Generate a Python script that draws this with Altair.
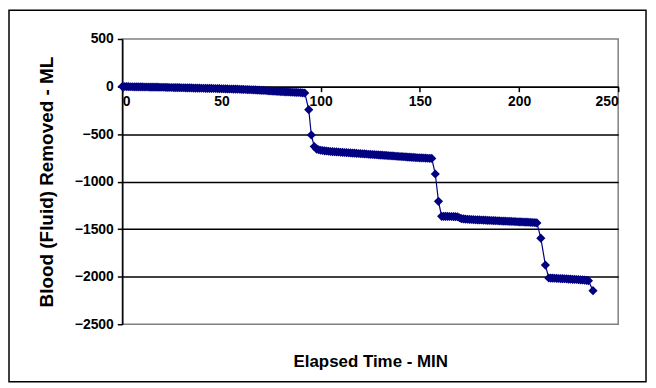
import altair as alt
import pandas as pd

plateau1_min = list(range(0, 93))
plateau1_ml = [0, 0, -1, -1, -2, -2, -3, -3, -3, -4,
               -4, -5, -5, -5, -6, -6, -6, -7, -7, -8,
               -8, -8, -9, -9, -10, -10, -11, -11, -12, -12,
               -13, -13, -14, -14, -15, -15, -16, -16, -17, -17,
               -18, -18, -19, -19, -20, -20, -21, -21, -22, -22,
               -23, -23, -24, -25, -26, -26, -27, -27, -28, -29,
               -30, -30, -31, -32, -33, -34, -35, -36, -37, -38,
               -40, -41, -42, -43, -45, -46, -48, -49, -51, -52,
               -54, -55, -56, -57, -58, -59, -60, -61, -62, -63,
               -64, -66, -68]
drop1_min = [94, 95.3, 96.8, 98, 99]
drop1_ml = [-243, -510, -632, -658, -665]
plateau2_min = list(range(100, 157))
plateau2_ml = [-670, -673, -676, -678, -681, -683, -685, -686, -688, -689,
               -691, -692, -694, -695, -697, -698, -700, -701, -703, -704,
               -706, -707, -709, -710, -712, -713, -715, -716, -718, -719,
               -721, -722, -724, -725, -727, -728, -730, -731, -733, -734,
               -736, -737, -739, -740, -742, -743, -745, -746, -748, -749,
               -750, -751, -752, -753, -754, -755, -756]
drop2_min = [157.8, 159.4, 161]
drop2_ml = [-920, -1208, -1365]
plateau3_min = list(range(162, 210))
plateau3_ml = [-1365, -1366, -1366, -1367, -1367, -1368, -1369, -1370, -1380, -1390,
               -1392, -1395, -1396, -1398, -1399, -1400, -1401, -1402, -1403, -1404,
               -1405, -1406, -1407, -1408, -1409, -1410, -1411, -1412, -1413, -1414,
               -1415, -1416, -1417, -1418, -1419, -1420, -1421, -1422, -1423, -1424,
               -1425, -1426, -1427, -1428, -1429, -1430, -1432, -1435]
drop3_min = [211, 213.3, 215]
drop3_ml = [-1595, -1878, -2014]
plateau4_min = list(range(216, 236))
plateau4_ml = [-2015, -2016, -2017, -2018, -2019, -2020, -2021, -2022, -2023, -2025,
               -2026, -2028, -2029, -2030, -2031, -2033, -2034, -2036, -2039, -2042]
last_min = [237.3]
last_ml = [-2147]

x_ticks = [0, 50, 100, 150, 200, 250]
y_ticks = [-2500, -2000, -1500, -1000, -500, 0, 500]

minutes = plateau1_min + drop1_min + plateau2_min + drop2_min + plateau3_min + drop3_min + plateau4_min + last_min
removed = plateau1_ml + drop1_ml + plateau2_ml + drop2_ml + plateau3_ml + drop3_ml + plateau4_ml + last_ml
df = pd.DataFrame({"t": minutes, "v": removed})

FONT = "Liberation Sans"
NAVY = "#000080"

W, H = 499, 287

line = alt.Chart(df).mark_line(
    color=NAVY, strokeWidth=1.2,
    point=alt.OverlayMarkDef(shape="diamond", size=85, filled=True, color=NAVY, opacity=1),
).encode(
    x=alt.X("t:Q",
            scale=alt.Scale(domain=[0, 250], nice=False),
            axis=alt.Axis(values=x_ticks, offset=-239, grid=False, format="d",
                          domainColor="black", domainWidth=1.5,
                          tickColor="black", tickSize=5, tickWidth=1.5,
                          labelFont=FONT, labelFontSize=14, labelFontWeight="bold",
                          labelColor="black", labelPadding=3,
                          title="Elapsed Time - MIN", titleFont=FONT, titleFontSize=17,
                          titleFontWeight="bold", titleColor="black",
                          titleY=277, titleBaseline="middle")),
    y=alt.Y("v:Q",
            scale=alt.Scale(domain=[-2500, 500], nice=False),
            axis=alt.Axis(values=y_ticks, grid=True, format="d",
                          gridColor="black", gridWidth=1.5,
                          gridOpacity={"condition": {"test": "datum.value == 500 || datum.value == -2500", "value": 0}, "value": 1},
                          domainColor="black", domainWidth=1.5,
                          tickColor="black", tickSize=5, tickWidth=1.5,
                          labelFont=FONT, labelFontSize=14, labelFontWeight="bold",
                          labelColor="black", labelPadding=4,
                          title="Blood (Fluid) Removed - ML", titleFont=FONT, titleFontSize=19,
                          titleFontWeight="bold", titleColor="black",
                          titleX=-76, titleBaseline="middle")),
)

frame = alt.Chart(pd.DataFrame({"k": [0]})).mark_rect(
    fill=None, stroke="black", strokeWidth=1.5, clip=False
).encode(
    x=alt.value(-114), x2=alt.value(527), y=alt.value(-29), y2=alt.value(345)
)

chart = alt.layer(frame, line).properties(
    width=W, height=H,
    padding={"left": 115, "top": 30, "right": 30, "bottom": 62},
    autosize=alt.AutoSizeParams(type="none"),
    background="white",
).configure_view(stroke="#808080", strokeWidth=1.5, fill="white")

chart.save("out.html", embed_options={"renderer": "svg", "actions": False})
